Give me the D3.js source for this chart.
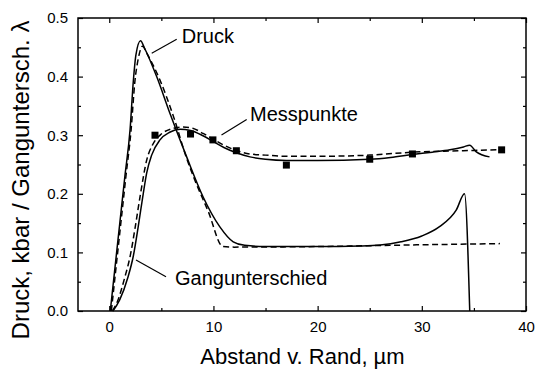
<!DOCTYPE html>
<html>
<head>
<meta charset="utf-8">
<script src="https://cdn.jsdelivr.net/npm/d3@7"></script>
<style>
  html, body { margin: 0; padding: 0; background: #fff; }
  svg { display: block; font-family: Arial, "Liberation Sans", Helvetica, sans-serif; }
</style>
</head>
<body>
<svg id="chart" width="538" height="369"></svg>
<script>
// Pressure (Druck) – computed, solid
const druckSolid = [
  [0.1, 0], [0.5, 0.066], [1.0, 0.148], [1.5, 0.23], [2.0, 0.31], [2.3, 0.39],
  [2.56, 0.437], [3.0, 0.461], [3.4, 0.448], [4.55, 0.400], [5.83, 0.337],
  [7.43, 0.263], [9.0, 0.195], [10.6, 0.144], [11.9, 0.118], [13, 0.112],
  [15, 0.110], [20, 0.110], [24, 0.111], [26, 0.1126], [28, 0.118], [30, 0.128],
  [31.7, 0.144], [33.3, 0.172], [34.1, 0.200], [34.6, 0]
];
// Pressure (Druck) – second model, dashed
const druckDashed = [
  [0.2, 0], [0.6, 0.066], [1.1, 0.148], [1.6, 0.23], [2.1, 0.31], [2.45, 0.39],
  [2.8, 0.432], [3.2, 0.452], [3.6, 0.440], [4.87, 0.394], [6.2, 0.33],
  [7.4, 0.262], [8.2, 0.224], [9.5, 0.17], [10.9, 0.110], [12, 0.109],
  [20, 0.110], [30, 0.113], [37.5, 0.115]
];
// Path difference (Gangunterschied) – solid
const gangSolid = [
  [0.35, 0], [1.0, 0.019], [1.8, 0.058], [2.3, 0.093], [2.78, 0.144], [3.26, 0.2],
  [3.6, 0.236], [4.07, 0.266], [4.87, 0.292], [5.8, 0.305], [6.8, 0.310],
  [7.8, 0.308], [9.0, 0.299], [10, 0.289], [11, 0.279], [12.2, 0.270],
  [13.5, 0.263], [15, 0.259], [17, 0.257], [20, 0.257], [25, 0.259], [27, 0.262],
  [29.1, 0.267], [31, 0.271], [32.7, 0.275], [34.0, 0.280], [34.6, 0.283],
  [35.2, 0.272], [36.5, 0.263]
];
// Path difference (Gangunterschied) – dashed
const gangDashed = [
  [0.3, 0], [0.8, 0.017], [1.5, 0.058], [2.0, 0.093], [2.5, 0.144], [3.0, 0.2],
  [3.6, 0.258], [4.2, 0.285], [5.0, 0.302], [6.0, 0.311], [7.1, 0.314],
  [8.0, 0.312], [9.0, 0.303], [10, 0.293], [11, 0.283], [12.2, 0.274],
  [13.5, 0.268], [15, 0.266], [17, 0.264], [20, 0.264], [25, 0.266],
  [29.1, 0.271], [32.7, 0.273], [35, 0.274], [37.2, 0.275]
];
// Measured points (Messpunkte)
const messX = [4.39, 7.8, 9.95, 12.2, 17.0, 25.0, 29.1, 37.66];
const messY = [0.300, 0.302, 0.292, 0.2735, 0.249, 0.259, 0.268, 0.275];

const xMajorTicks = [0, 10, 20, 30, 40];
const xMinorTicks = [5, 15, 25, 35];
const yMajorTicks = [0, 0.1, 0.2, 0.3, 0.4, 0.5];
const yMinorTicks = [0.05, 0.15, 0.25, 0.35, 0.45];

const xTitle = "Abstand v. Rand, µm";
const yTitle = "Druck, kbar / Ganguntersch. λ";

const W = 538, H = 369;
const m = { left: 78, right: 12, top: 18, bottom: 58 };
const pw = W - m.left - m.right, ph = H - m.top - m.bottom;

const svg = d3.select("#chart");
const g = svg.append("g").attr("transform", `translate(${m.left},${m.top})`);

const x = d3.scaleLinear().domain([-3, 40]).range([0, pw]);
const y = d3.scaleLinear().domain([0, 0.5]).range([ph, 0]);

const line = d3.line()
  .x(d => x(d[0])).y(d => y(d[1]))
  .curve(d3.curveMonotoneX);

svg.append("defs").append("clipPath").attr("id", "plotclip")
  .append("rect").attr("width", pw).attr("height", ph + 1);

const curves = g.append("g").attr("clip-path", "url(#plotclip)");
[
  [druckSolid, null], [druckDashed, "6,3.5"],
  [gangSolid, null], [gangDashed, "6,3.5"]
].forEach(([data, dash]) => {
  curves.append("path")
    .attr("d", line(data))
    .attr("fill", "none")
    .attr("stroke", "#000")
    .attr("stroke-width", 1.5)
    .attr("stroke-dasharray", dash);
});

// measured squares
const sq = 7;
g.append("g").selectAll("rect").data(messX.map((v, i) => [v, messY[i]]))
  .join("rect")
  .attr("x", d => x(d[0]) - sq / 2)
  .attr("y", d => y(d[1]) - sq / 2)
  .attr("width", sq).attr("height", sq)
  .attr("fill", "#000");

// axes: inward ticks on all four sides
const tickFont = "15px";
function addAxis(axis, transform, labels) {
  const a = g.append("g").attr("transform", transform).call(axis);
  a.select(".domain").remove();
  a.selectAll("line").attr("stroke", "#000").attr("stroke-width", 1.2);
  a.selectAll("text").attr("fill", "#000").style("font-size", tickFont);
  if (!labels) a.selectAll("text").remove();
  return a;
}
addAxis(d3.axisBottom(x).tickValues(xMajorTicks).tickSizeInner(-5).tickPadding(10).tickFormat(d3.format("d")), `translate(0,${ph})`, true);
addAxis(d3.axisBottom(x).tickValues(xMinorTicks).tickSizeInner(-3), `translate(0,${ph})`, false);
addAxis(d3.axisTop(x).tickValues(xMajorTicks).tickSizeInner(-5), `translate(0,0)`, false);
addAxis(d3.axisTop(x).tickValues(xMinorTicks).tickSizeInner(-3), `translate(0,0)`, false);
addAxis(d3.axisLeft(y).tickValues(yMajorTicks).tickSizeInner(-5).tickPadding(10).tickFormat(d3.format(".1f")), `translate(0,0)`, true);
addAxis(d3.axisLeft(y).tickValues(yMinorTicks).tickSizeInner(-3), `translate(0,0)`, false);
addAxis(d3.axisRight(y).tickValues(yMajorTicks).tickSizeInner(-5), `translate(${pw},0)`, false);
addAxis(d3.axisRight(y).tickValues(yMinorTicks).tickSizeInner(-3), `translate(${pw},0)`, false);

g.append("rect").attr("width", pw).attr("height", ph)
  .attr("fill", "none").attr("stroke", "#000").attr("stroke-width", 1.5);

// axis titles
svg.append("text")
  .attr("x", 302.5).attr("y", 364)
  .attr("text-anchor", "middle")
  .style("font-size", "22px")
  .text(xTitle);
svg.append("text")
  .attr("transform", `translate(29,180) rotate(-90)`)
  .attr("text-anchor", "middle")
  .style("font-size", "24px")
  .text(yTitle);

// curve annotations with leader lines
const notes = [
  { text: "Druck", tx: 181.7, ty: 43, x1: 151.7, y1: 53.3, x2: 176.7, y2: 39.3 },
  { text: "Messpunkte", tx: 250, ty: 120.7, x1: 221.5, y1: 135, x2: 246.7, y2: 119.5 },
  { text: "Gangunterschied", tx: 175, ty: 285, x1: 136, y1: 260, x2: 166, y2: 276.7 }
];
notes.forEach(n => {
  svg.append("line").attr("x1", n.x1).attr("y1", n.y1).attr("x2", n.x2).attr("y2", n.y2)
    .attr("stroke", "#000").attr("stroke-width", 1.2);
  svg.append("text").attr("x", n.tx).attr("y", n.ty)
    .style("font-size", "20px").text(n.text);
});
</script>
</body>
</html>
